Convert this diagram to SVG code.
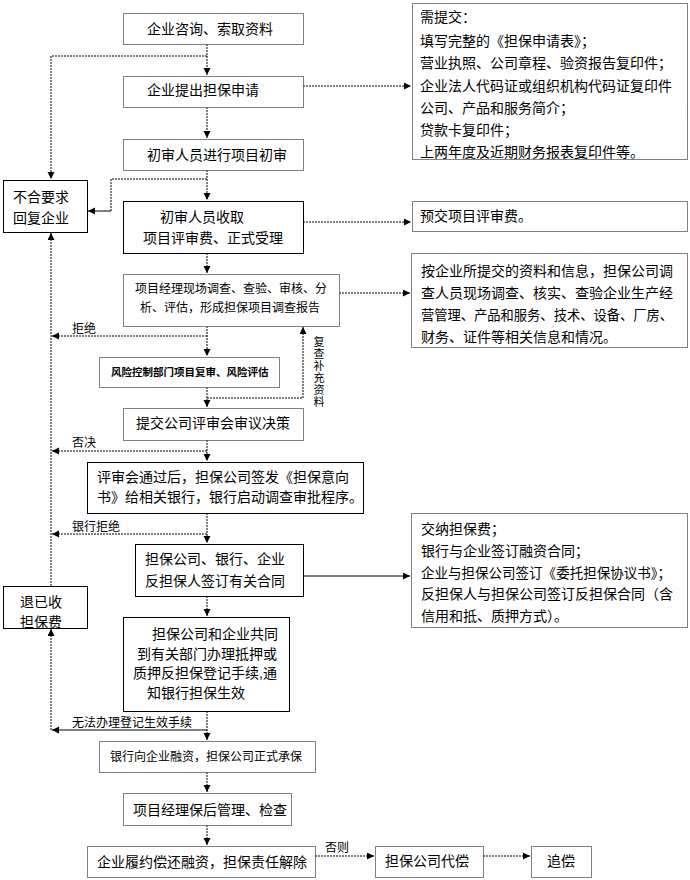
<svg xmlns="http://www.w3.org/2000/svg" width="690" height="880" viewBox="0 0 690 880">
<style>
text{font-family:"Liberation Sans","Noto Sans CJK SC",sans-serif;font-size:14px;fill:#000}
.sm{font-size:12px}
.v{font-size:11px}
.b{font-size:10.5px;font-weight:bold}
.d{fill:#fff;stroke:#000;stroke-width:1;stroke-dasharray:1 1}
.s{fill:#fff;stroke:#000;stroke-width:1}
.cd{fill:none;stroke:#000;stroke-width:1;stroke-dasharray:2 1}
.cs{fill:none;stroke:#000;stroke-width:1}
</style>
<defs>
<marker id="a" markerUnits="userSpaceOnUse" markerWidth="8" markerHeight="8" refX="7" refY="3.5" orient="auto">
<path d="M0,0 L7,3.5 L0,7 z" fill="#000"/>
</marker>
</defs>
<rect width="690" height="880" fill="#fff"/>
<g id="connectors">
<path class="cd" d="M207,44 V75" marker-end="url(#a)"/>
<path class="cd" d="M207,56 H51 V179" marker-end="url(#a)"/>
<path class="cd" d="M303,86 H411" marker-end="url(#a)"/>
<path class="cd" d="M207,107 V138" marker-end="url(#a)"/>
<path class="cd" d="M207,170 V200" marker-end="url(#a)"/>
<path class="cd" d="M207,179 H111 V211"/>
<path class="cs" d="M111,211 H88" marker-end="url(#a)"/>
<path class="cd" d="M303,222 H411" marker-end="url(#a)"/>
<path class="cd" d="M207,253 V273" marker-end="url(#a)"/>
<path class="cd" d="M339,293 H410" marker-end="url(#a)"/>
<path class="cd" d="M207,326 V356" marker-end="url(#a)"/>
<path class="cd" d="M207,336 H52" marker-end="url(#a)"/>
<path class="cd" d="M207,387 V407" marker-end="url(#a)"/>
<path class="cd" d="M207,398 H303 V327" marker-end="url(#a)"/>
<path class="cd" d="M207,440 V461" marker-end="url(#a)"/>
<path class="cd" d="M207,451 H52" marker-end="url(#a)"/>
<path class="cd" d="M207,513 V543" marker-end="url(#a)"/>
<path class="cd" d="M207,534 H52" marker-end="url(#a)"/>
<path class="cd" d="M51,586 V233" marker-end="url(#a)"/>
<path class="cs" d="M303,576 H410" marker-end="url(#a)"/>
<path class="cd" d="M207,596 V616" marker-end="url(#a)"/>
<path class="cd" d="M207,711 V740" marker-end="url(#a)"/>
<path class="cs" d="M207,730 H52" marker-end="url(#a)"/>
<path class="cd" d="M51,730 V629" marker-end="url(#a)"/>
<path class="cd" d="M207,772 V792" marker-end="url(#a)"/>
<path class="cd" d="M207,825 V845" marker-end="url(#a)"/>
<path class="cd" d="M315,856 H374" marker-end="url(#a)"/>
<path class="cd" d="M483,856 H530" marker-end="url(#a)"/>
<text class="sm" x="72" y="333">拒绝</text>
<text class="sm" x="72" y="447">否决</text>
<text class="sm" x="72" y="531">银行拒绝</text>
<text class="sm" x="72" y="727">无法办理登记生效手续</text>
<text class="sm" x="325" y="852">否则</text>
<text class="v" text-anchor="middle" x="319" y="346">复</text>
<text class="v" text-anchor="middle" x="319" y="358">查</text>
<text class="v" text-anchor="middle" x="319" y="370">补</text>
<text class="v" text-anchor="middle" x="319" y="382">充</text>
<text class="v" text-anchor="middle" x="319" y="394">资</text>
<text class="v" text-anchor="middle" x="319" y="406">料</text>
</g>
<g id="n1"><rect class="d" x="123.5" y="13.5" width="180" height="31"/><text x="147" y="34">企业咨询、索取资料</text></g>
<g id="n2"><rect class="d" x="123.5" y="76.5" width="180" height="31"/><text x="147" y="95">企业提出担保申请</text></g>
<g id="n3"><rect class="d" x="123.5" y="139.5" width="180" height="31"/><text x="147" y="160">初审人员进行项目初审</text></g>
<g id="n4"><rect class="s" x="123.5" y="201.5" width="180" height="52"/><text x="160" y="222">初审人员收取</text><text x="143" y="243">项目评审费、正式受理</text></g>
<g id="n5"><rect class="s" x="3.5" y="180.5" width="84" height="52"/><text x="13" y="202">不合要求</text><text x="13" y="223">回复企业</text></g>
<g id="n6"><rect class="d" x="412.5" y="3.5" width="275" height="156"/>
<text x="420" y="22">需提交：</text>
<text x="420" y="46">填写完整的《担保申请表》；</text>
<text x="420" y="68">营业执照、公司章程、验资报告复印件；</text>
<text x="420" y="91">企业法人代码证或组织机构代码证复印件</text>
<text x="420" y="113">公司、产品和服务简介；</text>
<text x="420" y="135">贷款卡复印件；</text>
<text x="420" y="157">上两年度及近期财务报表复印件等。</text></g>
<g id="n7"><rect class="d" x="412.5" y="201.5" width="275" height="30"/><text x="420" y="221">预交项目评审费。</text></g>
<g id="n8"><rect class="d" x="123.5" y="274.5" width="216" height="52"/><text class="sm" x="135" y="293">项目经理现场调查、查验、审核、分</text><text class="sm" x="140" y="312">析、评估，形成担保项目调查报告</text></g>
<g id="n9"><rect class="d" x="411.5" y="253.5" width="276" height="94"/>
<text x="421" y="276">按企业所提交的资料和信息，担保公司调</text>
<text x="421" y="298">查人员现场调查、核实、查验企业生产经</text>
<text x="421" y="320" textLength="252" lengthAdjust="spacingAndGlyphs">营管理、产品和服务、技术、设备、厂房、</text>
<text x="421" y="342">财务、证件等相关信息和情况。</text></g>
<g id="n10"><rect class="d" x="99.5" y="357.5" width="180" height="30"/><text class="b" x="111" y="376">风险控制部门项目复审、风险评估</text></g>
<g id="n11"><rect class="d" x="123.5" y="408.5" width="180" height="32"/><text x="136" y="428">提交公司评审会审议决策</text></g>
<g id="n12"><rect class="s" x="87.5" y="462.5" width="276" height="51"/><text x="97" y="482">评审会通过后，担保公司签发《担保意向</text><text x="97" y="502">书》给相关银行，银行启动调查审批程序。</text></g>
<g id="n13"><rect class="s" x="135.5" y="544.5" width="168" height="52"/><text x="145" y="564">担保公司、银行、企业</text><text x="145" y="586">反担保人签订有关合同</text></g>
<g id="n14"><rect class="d" x="411.5" y="513.5" width="276" height="114"/>
<text x="421" y="534">交纳担保费；</text>
<text x="421" y="556">银行与企业签订融资合同；</text>
<text x="421" y="578" textLength="250" lengthAdjust="spacingAndGlyphs">企业与担保公司签订《委托担保协议书》；</text>
<text x="421" y="599">反担保人与担保公司签订反担保合同（含</text>
<text x="421" y="621">信用和抵、质押方式）。</text></g>
<g id="n15"><rect class="s" x="3.5" y="586.5" width="84" height="42"/><text x="20" y="607">退已收</text><text x="20" y="627">担保费</text></g>
<g id="n16"><rect class="s" x="123.5" y="617.5" width="166" height="94"/>
<text x="152" y="639">担保公司和企业共同</text>
<text x="137" y="659">到有关部门办理抵押或</text>
<text x="133" y="678">质押反担保登记手续,通</text>
<text x="147" y="698">知银行担保生效</text></g>
<g id="n17"><rect class="d" x="99.5" y="741.5" width="216" height="31"/><text class="sm" x="110" y="761">银行向企业融资，担保公司正式承保</text></g>
<g id="n18"><rect class="d" x="123.5" y="793.5" width="168" height="32"/><text x="133" y="815">项目经理保后管理、检查</text></g>
<g id="n19"><rect class="d" x="87.5" y="846.5" width="228" height="31"/><text x="97" y="867">企业履约偿还融资，担保责任解除</text></g>
<g id="n20"><rect class="d" x="375.5" y="846.5" width="108" height="31"/><text x="385" y="866">担保公司代偿</text></g>
<g id="n21"><rect class="d" x="531.5" y="846.5" width="60" height="31"/><text x="547" y="866">追偿</text></g>
</svg>
